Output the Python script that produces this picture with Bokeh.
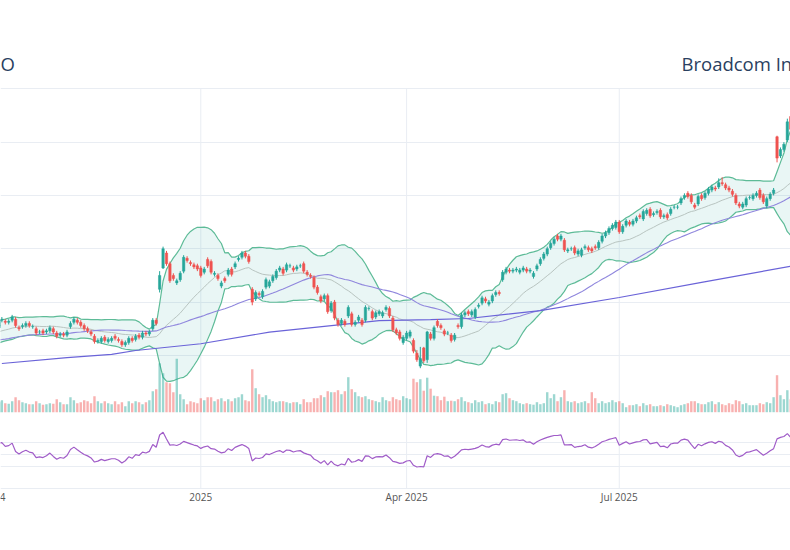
import numpy as np
import pandas as pd
from bokeh.plotting import figure
from bokeh.models import Range1d, FixedTicker, Grid, Label
from bokeh.core.properties import value
from bokeh.embed import file_html
from bokeh.resources import INLINE

# ---- trading calendar (one slot per session, no gaps) ---------------------------
holidays = ["2024-11-28", "2024-12-25", "2025-01-01", "2025-01-09", "2025-01-20",
            "2025-02-17", "2025-04-18", "2025-05-26", "2025-06-19", "2025-07-04",
            "2025-09-01"]
dates = pd.bdate_range("2024-10-07", "2025-09-12")
dates = dates[~dates.isin(pd.to_datetime(holidays))]

# ---- daily prices (USD), one row per month ---------------------------------------
opens = [
    176, 178, 183, 182, 181, 183, 184, 176, 177, 178, 180, 177, 175, 172, 173, 172, 173, 175, 171,
    169, 170, 169, 177, 181, 183, 181, 178, 175, 172, 168, 163, 163, 167, 163, 164, 168, 165, 163, 160,
    162, 166, 165, 169, 167, 171, 170, 175, 183, 212, 232, 246, 236, 225, 218, 221, 229, 241, 237, 235, 234,
    232, 228, 240, 238, 226, 225, 215, 222, 226, 231, 233, 240, 242, 246, 243, 212, 203, 208, 205, 214,
    215, 220, 223, 230, 231, 230, 234, 232, 231, 234, 236, 228, 225, 223, 214, 205, 203, 206, 192,
    200, 183, 180, 182, 187, 189, 179, 183, 183, 183, 194, 191, 186, 189, 187, 193, 194, 185, 174, 172, 162,
    166, 168, 164, 152, 140, 157, 146, 170, 166, 182, 178, 173, 171, 169, 165, 178, 177, 188, 191, 188, 186,
    196, 199, 203, 198, 201, 207, 209, 221, 228, 230, 229, 230, 228, 230, 231, 229, 224, 231, 236, 241, 245,
    251, 255, 262, 259, 258, 248, 250, 251, 245, 244, 251, 251, 250, 252, 251, 257, 262, 265, 269, 270,
    275, 266, 272, 275, 273, 276, 281, 278, 283, 287, 282, 284, 286, 280, 282, 283, 289, 289, 293, 298, 302, 300,
    291, 292, 300, 298, 302, 305, 307, 308, 312, 310, 307, 304, 300, 292, 289, 291, 298, 297, 300, 305, 300,
    290, 297, 302, 355, 337, 343, 352, 374, 360,
]
closes = [
    178, 183, 184, 181, 182, 186, 178, 175, 178, 180, 178, 177, 171, 172, 171, 173, 176, 172, 168,
    170, 169, 172, 180, 184, 181, 178, 175, 173, 170, 163, 164, 166, 164, 165, 166, 166, 164, 160, 162,
    166, 164, 168, 167, 171, 170, 172, 183, 180, 225, 250, 236, 220, 222, 220, 227, 242, 239, 236, 233, 231,
    225, 231, 234, 228, 227, 222, 218, 220, 230, 226, 236, 241, 246, 243, 238, 200, 209, 207, 210, 221,
    219, 224, 229, 232, 227, 235, 234, 230, 233, 234, 229, 226, 224, 214, 209, 201, 206, 191, 199,
    185, 179, 183, 179, 195, 179, 181, 186, 179, 195, 194, 185, 190, 191, 190, 195, 187, 174, 171, 166, 167,
    171, 172, 154, 146, 147, 145, 172, 166, 176, 178, 176, 170, 171, 164, 169, 177, 188, 190, 189, 191, 193,
    197, 204, 201, 200, 206, 209, 208, 228, 231, 229, 230, 231, 230, 232, 229, 230, 227, 234, 240, 245, 250,
    255, 259, 259, 262, 249, 249, 250, 246, 248, 249, 252, 249, 248, 251, 256, 262, 265, 269, 272, 275,
    266, 271, 276, 273, 276, 279, 280, 285, 286, 281, 283, 285, 280, 281, 279, 287, 289, 289, 297, 300, 299, 294,
    289, 299, 297, 302, 306, 308, 306, 312, 311, 307, 305, 301, 293, 290, 292, 297, 298, 300, 302, 298, 294,
    297, 301, 305, 335, 343, 348, 369, 362, 366,
]
# session high / low where the wick reaches well beyond the body
wick_overrides = {
    "2024-12-13": (229, 209), "2024-12-16": (252, 231), "2025-01-27": (214, 197),
    "2025-04-03": (166, 152), "2025-04-04": (155, 144), "2025-04-07": (158, 138),
    "2025-04-08": (158, 143), "2025-04-09": (173, 143), "2025-08-12": (316, 306),
    "2025-08-13": (317, 309), "2025-09-05": (356, 331), "2025-09-10": (372, 350),
    "2025-09-11": (376, 358),
}
# shares traded, millions
volumes_m = [
    20, 22, 24, 18, 17, 22, 30, 24, 20, 18, 16, 16, 22, 18, 15, 16, 18, 17, 26,
    20, 16, 16, 30, 24, 18, 20, 24, 22, 18, 32, 22, 18, 22, 18, 16, 22, 16, 20, 12,
    22, 18, 22, 20, 16, 20, 24, 42, 46, 98, 78, 60, 58, 40, 107, 36, 26, 16, 22, 20, 18,
    28, 24, 30, 30, 22, 26, 28, 22, 26, 22, 28, 30, 36, 24, 22, 86, 48, 36, 30, 34,
    26, 22, 20, 22, 22, 20, 18, 20, 20, 16, 26, 20, 20, 28, 28, 34, 30, 42, 40,
    40, 44, 36, 42, 70, 46, 40, 32, 30, 32, 26, 24, 22, 20, 30, 24, 22, 30, 26, 24, 32,
    28, 26, 67, 60, 66, 43, 69, 47, 33, 32, 24, 31, 22, 23, 22, 26, 30, 22, 20, 18, 24,
    20, 22, 16, 18, 16, 22, 20, 36, 38, 28, 24, 22, 18, 16, 18, 16, 15, 20, 16, 18, 40,
    28, 36, 22, 30, 44, 22, 20, 22, 18, 20, 22, 18, 40, 28, 18, 22, 18, 20, 24, 20,
    22, 18, 10, 14, 14, 16, 12, 18, 14, 16, 12, 12, 14, 12, 16, 14, 12, 10, 14, 16, 18, 22,
    22, 18, 16, 16, 20, 22, 16, 20, 16, 14, 18, 16, 24, 22, 16, 18, 14, 14, 14, 18, 16,
    20, 18, 30, 74, 34, 26, 44, 26, 22,
]
# closes of the sessions before 2024-10-07 (indicator warm-up)
prior_closes = [
    160, 158, 152, 147, 150, 148, 156, 157, 160, 164, 163, 168, 167, 170, 168, 168, 162, 165,
    162, 163, 160, 163, 166, 156, 157, 156, 148, 152, 155, 160, 165, 167, 166, 167, 167, 174,
    172, 173, 175, 174, 175, 174, 173, 170, 172, 175, 177,
]
# 200-session moving average
sma200_dates = ["2024-10-09", "2024-11-05", "2024-11-22", "2024-12-04", "2025-01-02", "2025-02-03",
                "2025-03-20", "2025-04-10", "2025-04-28", "2025-05-28", "2025-07-01", "2025-08-05",
                "2025-09-12"]
sma200_vals = [142.4, 148.0, 151.0, 154.6, 160.9, 171.8, 182.7, 183.6, 184.6, 192.0, 204.3, 218.4, 234.3]

# x-axis labels at the first session of each quarter
tick_labels = {"2024-10-01": "Oct 2024", "2025-01-02": "2025", "2025-04-01": "Apr 2025", "2025-07-01": "Jul 2025"}

# ---- derived series ----------------------------------------------------------
n = len(dates)
x = np.arange(n, dtype=float)              # session index
pos = {d.strftime("%Y-%m-%d"): i for i, d in enumerate(dates)}

o = np.array(opens, float)
c = np.array(closes, float)
hi = np.maximum(o, c) + 2
lo = np.minimum(o, c) - 2
for d, (h, l) in wick_overrides.items():
    hi[pos[d]] = h
    lo[pos[d]] = l

allc = pd.Series(prior_closes + closes, dtype=float)
n0 = len(prior_closes)
mid = allc.rolling(20).mean()
sd = allc.rolling(20).std()
upper = (mid + 2 * sd).to_numpy()[n0:]
lower = (mid - 2 * sd).to_numpy()[n0:]
mid = mid.to_numpy()[n0:]
sma50 = allc.rolling(50, min_periods=40).mean().to_numpy()[n0:]
delta = allc.diff()
gain = delta.clip(lower=0).ewm(alpha=1 / 14, adjust=False).mean()
loss = (-delta.clip(upper=0)).ewm(alpha=1 / 14, adjust=False).mean()
rsi = (100 - 100 / (1 + gain / loss)).to_numpy()[n0:]

s200x = [pos[d] for d in sma200_dates]

# session index of each quarter label (Oct 1 falls just before the first loaded session)
pre_sessions = len(pd.bdate_range("2024-10-01", "2024-10-06"))
tick_x, tick_text = [], []
for d, lab in tick_labels.items():
    tick_x.append(pos[d] if d in pos else 1 - pre_sessions)
    tick_text.append(lab)

INC, DEC = "#26a69a", "#ef5350"
col = [INC if cc >= oo else DEC for oo, cc in zip(o, c)]

# ---- figure: the plotting frame fills the whole 790 x 550 canvas -------------------
W, H = 790, 550
px_per_session = 3.43
x0 = pos["2025-01-02"] - 200.3 / px_per_session
x1 = x0 + W / px_per_session

ppd = 266.6 / 250.0            # pixels per dollar; $400 sits at 88.3 px from the top
p_top = 400 + 88.3 / ppd
p_bot = p_top - H / ppd


def price_at(py):
    """price value at a pixel row (from the top)"""
    return p_top - py / ppd


p = figure(width=W, height=H, x_range=Range1d(x0, x1), y_range=Range1d(p_bot, p_top),
           x_axis_type=None, y_axis_type=None, output_backend="svg", toolbar_location=None,
           min_border=0, outline_line_color=None, background_fill_color="white")

# volume on its own scale: zero at y=411.7 px
vk = 0.5                      # px per million shares
v_bot = -(H - 411.7) / vk
p.extra_y_ranges["vol"] = Range1d(v_bot, v_bot + H / vk)
# RSI scale: 30 -> 466 px, 70 -> 441.7 px
rk = 24.3 / 40
r_bot = -(H - 484.2) / rk
p.extra_y_ranges["rsi"] = Range1d(r_bot, r_bot + H / rk)
rsi_floor = r_bot + (H - 488) / rk          # lower edge of the indicator pane

GRID = "#e9edf3"
p.add_layout(Grid(dimension=1, ticker=FixedTicker(ticks=[150, 200, 250, 300, 350, 400]),
                  grid_line_color=GRID))
p.add_layout(Grid(dimension=1, y_range_name="rsi", ticker=FixedTicker(ticks=[rsi_floor, 30, 50, 70]),
                  grid_line_color=GRID))
# vertical grid lines span the chart area below the title
p.segment(x0=tick_x, y0=[400.3] * len(tick_x), x1=tick_x, y1=[price_at(488)] * len(tick_x),
          line_color=GRID, line_width=1)
# date labels under the panes
p.text(x=tick_x, y=[price_at(496.5)] * len(tick_x), text=tick_text, text_align="center",
       text_baseline="middle", text_font=value("Open Sans"), text_font_size="10px",
       text_color="#555555")

# Bollinger band
p.varea(x=x, y1=lower, y2=upper, fill_color="#26a69a", fill_alpha=0.1)
p.line(x, upper, line_color="#5dbb97", line_width=1.2)
p.line(x, lower, line_color="#5dbb97", line_width=1.2)
p.line(x, mid, line_color="#b8c4c0", line_width=1)

# moving averages
p.line(x, sma50, line_color="#8f86dd", line_width=1.1)
p.line(s200x, sma200_vals, line_color="#6a63d8", line_width=1.2)

# volume
p.vbar(x=x, top=volumes_m, bottom=0, width=0.7, y_range_name="vol",
       fill_color=col, line_color=None, fill_alpha=0.45)

# candles
p.segment(x, hi, x, lo, line_color=col, line_width=1)
p.vbar(x=x, top=np.maximum(o, c), bottom=np.minimum(o, c), width=0.7,
       fill_color=col, line_color=col, line_width=0.5)

# RSI
p.line(x, rsi, y_range_name="rsi", line_color="#a05cc8", line_width=1.2)

# titles
TITLE_Y = H - 62.5
p.add_layout(Label(x=14.5, y=TITLE_Y, x_units="screen", y_units="screen", text="AVGO",
                   text_align="right", text_baseline="alphabetic", text_font="Open Sans",
                   text_font_size="18.5px", text_color="#2a3f5f"))
p.add_layout(Label(x=681, y=TITLE_Y, x_units="screen", y_units="screen", text="Broadcom Inc.",
                   text_align="left", text_baseline="alphabetic", text_font="Open Sans",
                   text_font_size="18.5px", text_color="#2a3f5f"))

open("out.html", "w").write(file_html(p, INLINE))
